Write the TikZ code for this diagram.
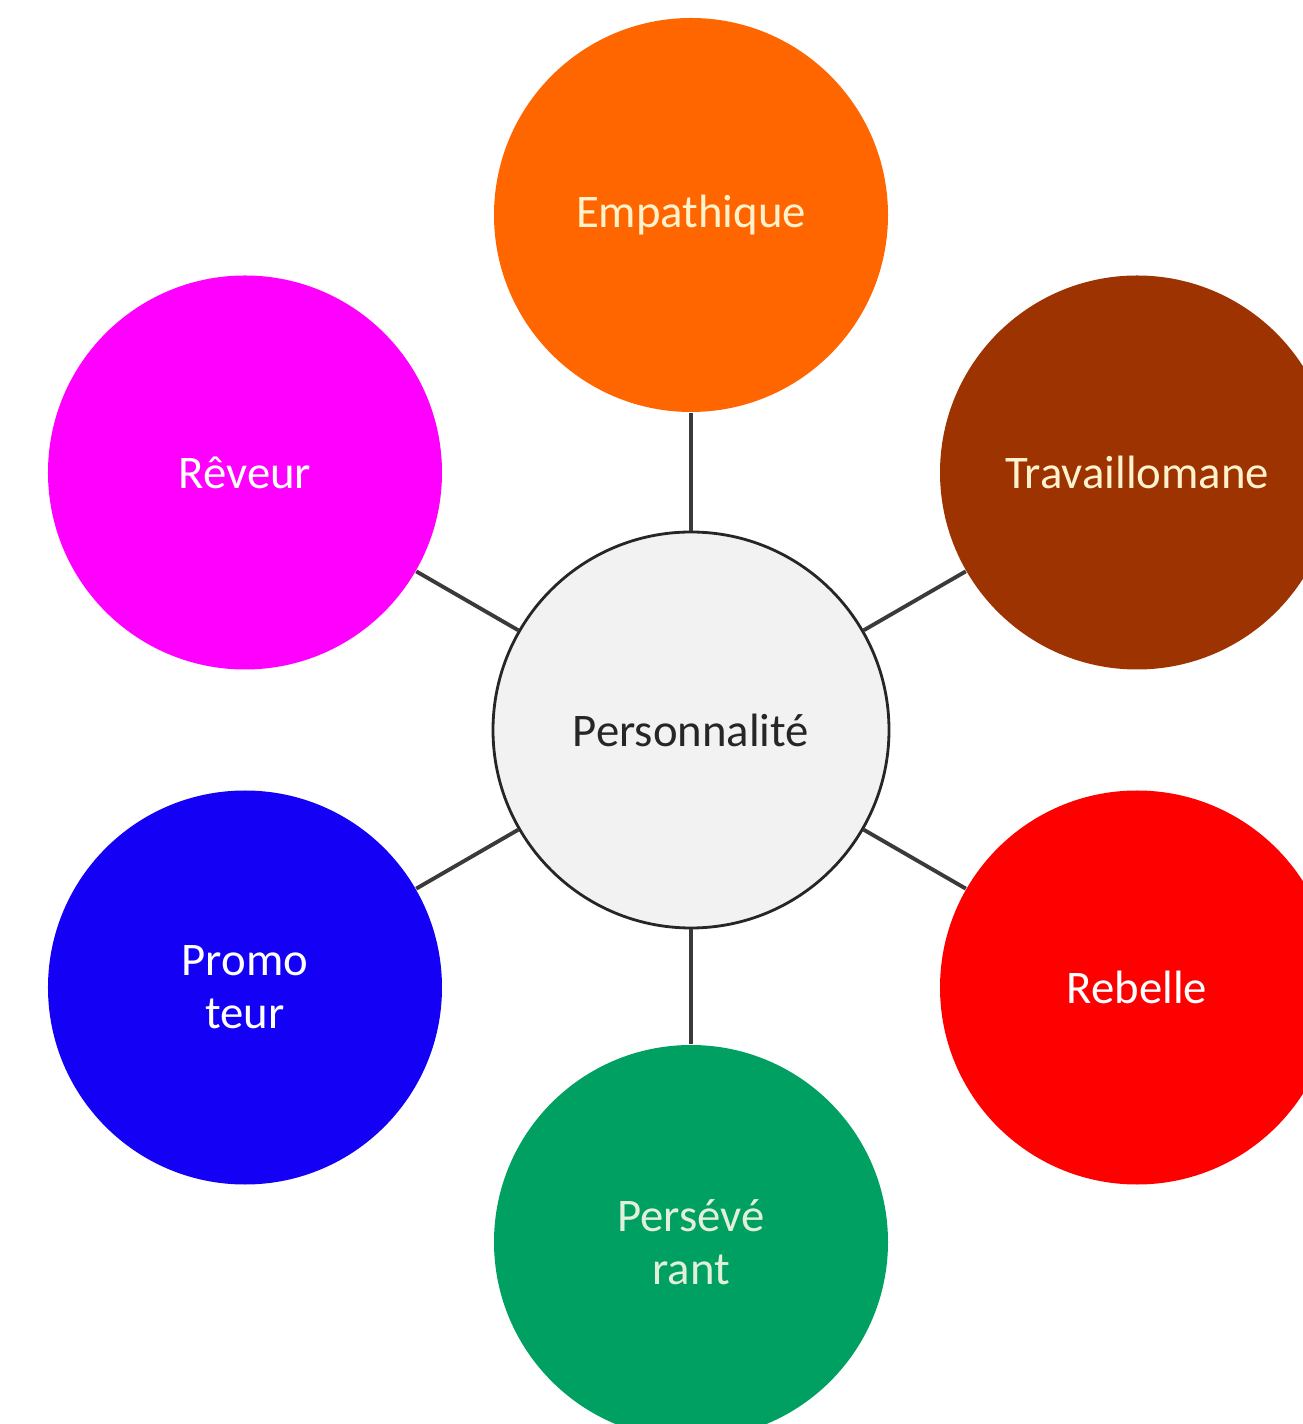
\documentclass[tikz,border=0pt]{standalone}
\usepackage{fontspec}
\setmainfont{Carlito}
\usepackage{tikz}
\usetikzlibrary{positioning}
\definecolor{hubgray}{HTML}{F2F2F2}
\definecolor{linegray}{HTML}{3A3A3A}
\definecolor{traitorange}{HTML}{FF6600}
\definecolor{traitbrown}{HTML}{9C3300}
\definecolor{traitmagenta}{HTML}{FF00FF}
\definecolor{traitblue}{HTML}{1400F5}
\definecolor{traitred}{HTML}{FF0000}
\definecolor{traitgreen}{HTML}{00A063}
\definecolor{labelcream}{HTML}{FFF2CC}
\definecolor{labelmint}{HTML}{E2F0D9}
\tikzset{
  hub/.style={circle,draw=black!85,line width=0.8pt,fill=hubgray,minimum size=3.96cm,inner sep=0pt,text=black!85},
  trait/.style={circle,minimum size=3.94cm,inner sep=0pt,align=center},
  link/.style={linegray,line width=1.1pt}
}

\begin{document}
\begin{tikzpicture}[font=\fontsize{13.3}{15}\selectfont]
\clip (-6.91,7.30) rectangle (6.12,-6.94);
\useasboundingbox (-6.91,7.30) rectangle (6.12,-6.94);
\fill[white] (-6.91,7.30) rectangle (6.12,-6.94);
% centre and the six traits around it
\node[hub] (perso) at (0,0) {Personnalité};
\node[trait,fill=traitorange,text=labelcream] (empath) at (90:5.15) {Empathique};
\node[trait,fill=traitbrown,text=labelcream] (travail) at (30:5.15) {Travaillomane};
\node[trait,fill=traitred,text=white] (rebelle) at (-30:5.15) {Rebelle};
\node[trait,fill=traitgreen,text=labelmint] (persev) at (-90:5.12) {Persévé\\rant};
\node[trait,fill=traitblue,text=white] (promo) at (210:5.15) {Promo\\teur};
\node[trait,fill=traitmagenta,text=white] (reveur) at (150:5.15) {Rêveur};
% spokes
\draw[link] (perso) -- (empath);
\draw[link] (perso) -- (travail);
\draw[link] (perso) -- (rebelle);
\draw[link] (perso) -- (persev);
\draw[link] (perso) -- (promo);
\draw[link] (perso) -- (reveur);
\end{tikzpicture}
\end{document}
